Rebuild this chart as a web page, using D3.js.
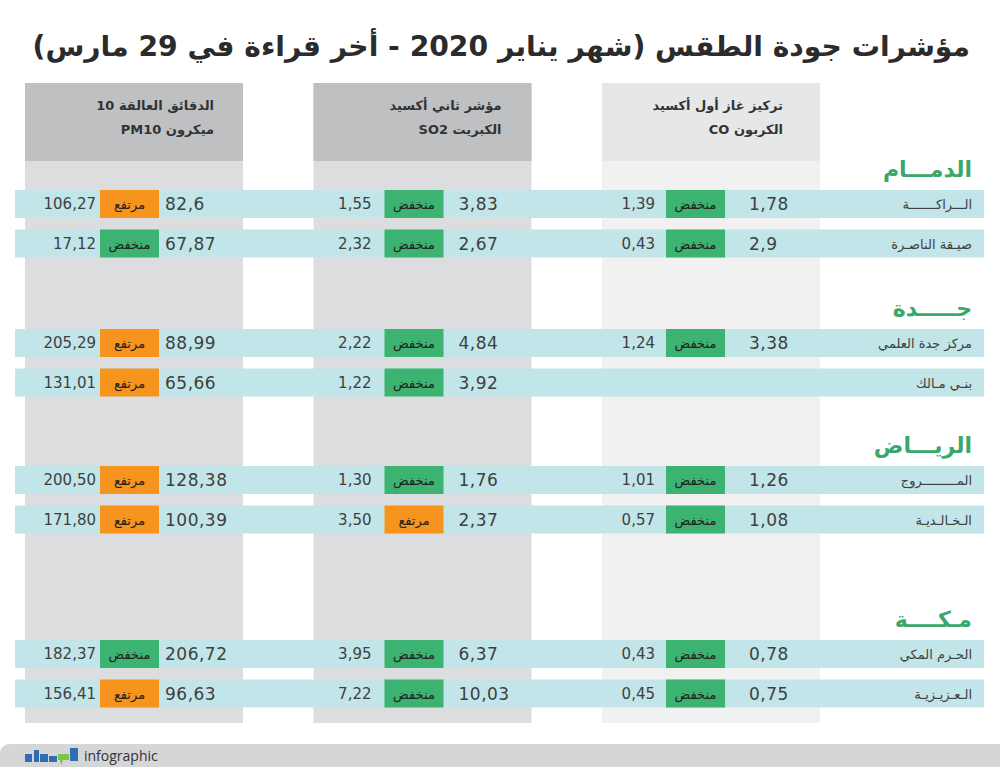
<!DOCTYPE html>
<html>
<head>
<meta charset="utf-8">
<script src="https://cdn.jsdelivr.net/npm/d3@7"></script>
<style>
  html, body { margin: 0; padding: 0; background: #fff; }
  svg { display: block; }
</style>
</head>
<body>
<div id="chart"></div>
<script>
(function () {
  'use strict';

  const TITLE = 'مؤشرات جودة الطقس (شهر يناير 2020 - أخر قراءة في 29 مارس)';

  const CITIES = ['الدمـــام', 'جـــــدة', 'الريـــاض', 'مـكــــة'];
  const STATIONS = [
    'الـــراكـــــــة', 'صيـقة الناصـرة',
    'مركز جدة العلمي', 'بنـي مـالك',
    'المـــــــــروج', 'الـخـالـديـة',
    'الحـرم المكي', 'الـعـزيـزيـة'
  ];
  const STATION_CITY = [0, 0, 1, 1, 2, 2, 3, 3];

  const COLUMNS = ['pm10', 'so2', 'co'];
  const HEADER_LINES = [
    ['الدقائق العالقة 10', 'ميكرون PM10'],
    ['مؤشر ثاني أكسيد', 'الكبريت SO2'],
    ['تركيز غاز أول أكسيد', 'الكربون CO']
  ];

  // monthly reading (right of badge), level, last reading (left of badge)
  const PM10_MONTH = ['82.6', '67.87', '88.99', '65.66', '128.38', '100.39', '206.72', '96.63'];
  const PM10_LEVEL = ['high', 'low', 'high', 'high', 'high', 'high', 'low', 'high'];
  const PM10_LAST  = ['106.27', '17.12', '205.29', '131.01', '200.50', '171.80', '182.37', '156.41'];

  const SO2_MONTH = ['3.83', '2.67', '4.84', '3.92', '1.76', '2.37', '6.37', '10.03'];
  const SO2_LEVEL = ['low', 'low', 'low', 'low', 'low', 'high', 'low', 'low'];
  const SO2_LAST  = ['1.55', '2.32', '2.22', '1.22', '1.30', '3.50', '3.95', '7.22'];

  const CO_MONTH = ['1.78', '2.9', '3.38', null, '1.26', '1.08', '0.78', '0.75'];
  const CO_LEVEL = ['low', 'low', 'low', null, 'low', 'low', 'low', 'low'];
  const CO_LAST  = ['1.39', '0.43', '1.24', null, '1.01', '0.57', '0.43', '0.45'];

  const LEVEL_TEXT = { high: 'مرتفع', low: 'منخفض' };

  // ---- layout ----
  const W = 1000, H = 771;
  const AR = '"DejaVu Sans", sans-serif';
  const GREEN = '#3cb371', ORANGE = '#f7941d', TEAL = '#c1e5e8';
  const TEXT = '#3f3f3f';
  const GROUP_Y = [190, 329, 466, 640];   // top of first band in each city group
  const ROW_STEP = 39.5, BAND_H = 28;
  const COL_STYLE = [
    { head: '#bfc0c2', body: '#dcdddf', hdEnd: 189, numEnd: 71, badge: 75, numStart: 140 },
    { head: '#bfc0c2', body: '#dcdddf', hdEnd: 188, numEnd: 58, badge: 71, numStart: 145 },
    { head: '#e6e7e8', body: '#f1f1f2', hdEnd: 181, numEnd: 53, badge: 64, numStart: 147 }
  ];
  const BADGE_W = 59;

  const rtl = s => '\u202B' + s + '\u202C';

  const rows = STATIONS.map((name, i) => {
    const k = STATION_CITY[i];
    const first = STATION_CITY.indexOf(k);
    return {
      name, city: k,
      y: GROUP_Y[k] + (i - first) * ROW_STEP,
      cells: [
        { month: PM10_MONTH[i], level: PM10_LEVEL[i], last: PM10_LAST[i] },
        { month: SO2_MONTH[i], level: SO2_LEVEL[i], last: SO2_LAST[i] },
        { month: CO_MONTH[i], level: CO_LEVEL[i], last: CO_LAST[i] }
      ]
    };
  });

  const x = d3.scaleBand().domain(COLUMNS).range([25, 820]).paddingInner(0.2444);

  const svg = d3.select('#chart').append('svg')
    .attr('width', W).attr('height', H)
    .attr('viewBox', `0 0 ${W} ${H}`);

  // title, fitted to width
  const title = svg.append('text')
    .attr('x', 970).attr('y', 56)
    .attr('text-anchor', 'end')
    .attr('font-family', AR).attr('font-weight', 'bold')
    .attr('font-size', 34).attr('fill', '#2b2b2b')
    .text(rtl(TITLE));
  const tl = title.node().getComputedTextLength();
  if (tl > 0) title.attr('font-size', Math.min(40, 34 * 938 / tl));

  // column backgrounds + headers
  const cols = svg.append('g').selectAll('g').data(COLUMNS).join('g')
    .attr('transform', d => `translate(${x(d)},0)`);
  cols.append('rect')
    .attr('y', 83).attr('width', x.bandwidth()).attr('height', 640)
    .attr('fill', (d, i) => COL_STYLE[i].body);
  cols.append('rect')
    .attr('y', 83).attr('width', x.bandwidth()).attr('height', 78)
    .attr('fill', (d, i) => COL_STYLE[i].head);
  cols.each(function (d, i) {
    d3.select(this).selectAll('text.hd').data(HEADER_LINES[i]).join('text')
      .attr('class', 'hd')
      .attr('x', COL_STYLE[i].hdEnd).attr('y', (t, j) => 110 + j * 24)
      .attr('text-anchor', 'end')
      .attr('font-family', AR).attr('font-weight', 'bold')
      .attr('font-size', 13).attr('fill', '#333')
      .text(t => rtl(t));
  });

  // city headings
  svg.append('g').selectAll('text').data(CITIES).join('text')
    .attr('x', 972).attr('y', (d, k) => GROUP_Y[k] - 13)
    .attr('text-anchor', 'end')
    .attr('font-family', AR).attr('font-weight', 'bold')
    .attr('font-size', 22).attr('fill', '#3aa86a')
    .text(d => d);

  // station rows
  const row = svg.append('g').selectAll('g').data(rows).join('g')
    .attr('transform', d => `translate(0,${d.y})`);
  row.append('rect')
    .attr('x', 15).attr('width', 969).attr('height', BAND_H)
    .attr('fill', TEAL);
  row.append('text')
    .attr('x', 972).attr('y', BAND_H / 2 + 5)
    .attr('text-anchor', 'end')
    .attr('font-family', AR).attr('font-size', 13).attr('fill', TEXT)
    .text(d => d.name);

  row.each(function (r) {
    const g = d3.select(this);
    r.cells.forEach((c, i) => {
      if (!c.month) return;
      const cx = x(COLUMNS[i]), st = COL_STYLE[i];
      g.append('rect')
        .attr('x', cx + st.badge).attr('width', BADGE_W).attr('height', BAND_H)
        .attr('fill', c.level === 'high' ? ORANGE : GREEN);
      g.append('text')
        .attr('x', cx + st.badge + BADGE_W / 2).attr('y', BAND_H / 2 + 5)
        .attr('text-anchor', 'middle')
        .attr('font-family', AR).attr('font-size', 13).attr('fill', '#222')
        .text(LEVEL_TEXT[c.level]);
      g.append('text')
        .attr('x', cx + st.numEnd).attr('y', BAND_H / 2 + 5)
        .attr('text-anchor', 'end')
        .attr('font-family', AR).attr('font-size', 15).attr('fill', TEXT)
        .text(c.last.replace('.', ','));
      g.append('text')
        .attr('x', cx + st.numStart).attr('y', BAND_H / 2 + 6)
        .attr('text-anchor', 'start')
        .attr('font-family', AR).attr('font-size', 17).attr('fill', TEXT)
        .attr('letter-spacing', 0.5)
        .text(c.month.replace('.', ','));
    });
  });

  // footer strip with logo
  svg.append('path')
    .attr('d', 'M0,767 L0,752 Q2,744 10,744 L1000,744 L1000,767 Z')
    .attr('fill', '#d5d6d8');
  const logo = svg.append('g').attr('transform', 'translate(25,748)');
  [[0, 6, 7, 8], [9, 2, 5, 12], [15, 6, 8, 8], [24, 8, 8, 6]].forEach(b => {
    logo.append('rect').attr('x', b[0]).attr('y', b[1]).attr('width', b[2]).attr('height', b[3])
      .attr('fill', '#2e6db4');
  });
  logo.append('path').attr('d', 'M33,6 L44,6 L44,12 L38,12 L36,17 L35,12 L33,12 Z').attr('fill', '#7dc242');
  logo.append('rect').attr('x', 45).attr('y', 0).attr('width', 8).attr('height', 13).attr('fill', '#2e6db4');
  svg.append('text')
    .attr('x', 84).attr('y', 761)
    .attr('font-family', '"Open Sans", sans-serif').attr('font-size', 14).attr('fill', '#333')
    .text('infographic');
})();
</script>
</body>
</html>
